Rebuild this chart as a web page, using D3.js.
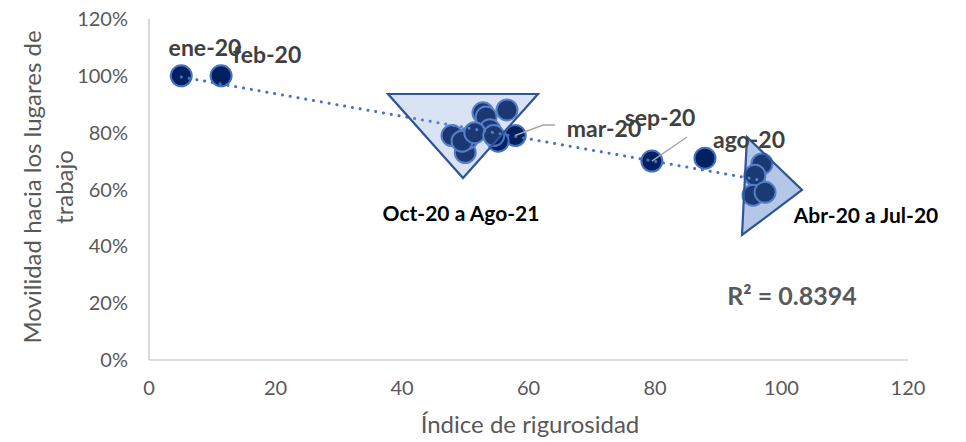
<!DOCTYPE html>
<html><head><meta charset="utf-8">
<script src="https://d3js.org/d3.v7.min.js"></script>
<style>
body{margin:0;background:#fff;}
svg{display:block;font-family:Lato,"Open Sans",sans-serif;}
</style></head><body>
<svg id="c" width="966" height="442"></svg>
<script>
const months = ["ene-20","feb-20","mar-20","abr-20","may-20","jun-20","jul-20","ago-20","sep-20",
  "oct-20","nov-20","dic-20","ene-21","feb-21","mar-21","abr-21","may-21","jun-21","jul-21","ago-21"];
const stringency = [5.1,11.4,57.9,96.9,95.8,95.5,97.4,87.9,79.5,
  47.9,50.0,50.4,49.5,52.8,53.3,53.9,56.6,55.2,51.5,54.5];
const mobility = [1.00,1.00,0.79,0.69,0.65,0.58,0.59,0.71,0.70,
  0.79,0.73,0.78,0.77,0.87,0.855,0.81,0.88,0.77,0.80,0.79];
const xTicks = [0,20,40,60,80,100,120];
const yTicks = [0,0.2,0.4,0.6,0.8,1.0,1.2];
const r2Label = "R² = 0.8394";

const svg = d3.select("#c");
const x = d3.scaleLinear().domain([0,120]).range([149,908]);
const y = d3.scaleLinear().domain([0,1.2]).range([360,19]);
const grey = "#595959";

// axes lines
svg.append("line").attr("x1",149).attr("x2",149).attr("y1",19).attr("y2",360).attr("stroke","#BFBFBF").attr("stroke-width",1.2);
svg.append("line").attr("x1",149).attr("x2",908).attr("y1",360).attr("y2",360).attr("stroke","#BFBFBF").attr("stroke-width",1.2);

// tick labels
svg.selectAll(".yt").data(yTicks).join("text")
  .attr("x",128).attr("y",d=>y(d)).attr("dy","0.35em").attr("text-anchor","end")
  .attr("font-size",20).attr("fill",grey).text(d=>d3.format(".0%")(d));
svg.selectAll(".xt").data(xTicks).join("text")
  .attr("x",d=>x(d)).attr("y",388).attr("dy","0.35em").attr("text-anchor","middle")
  .attr("font-size",20).attr("fill",grey).text(d=>d);

// axis titles
svg.append("text").attr("x",530).attr("y",425).attr("dy","0.35em").attr("text-anchor","middle")
  .attr("font-size",24).attr("fill",grey).text("Índice de rigurosidad");
const yt = svg.append("text").attr("transform","translate(33,187) rotate(-90)").attr("text-anchor","middle")
  .attr("font-size",24).attr("fill",grey);
yt.append("tspan").attr("x",0).attr("dy","0.35em").text("Movilidad hacia los lugares de");
yt.append("tspan").attr("x",0).attr("dy","1.33em").text("trabajo");

// regression
const n = stringency.length;
const mx = d3.mean(stringency), my = d3.mean(mobility);
let sxy=0,sxx=0;
for(let i=0;i<n;i++){sxy+=(stringency[i]-mx)*(mobility[i]-my);sxx+=(stringency[i]-mx)**2;}
const b = sxy/sxx, a = my-b*mx;
const xmin = d3.min(stringency), xmax = d3.max(stringency);

const tri1 = "M388,94 L538,94 L463,178 Z";
const tri2 = "M747,137 L802,190 L742,235 Z";

// triangle fills (under points)
svg.append("path").attr("d",tri1).attr("fill","#DAE3F3");
svg.append("path").attr("d",tri2).attr("fill","#B4C7E7");

// points
const pts = months.map((m,i)=>({m,x:stringency[i],y:mobility[i]}));
svg.selectAll(".pt").data(pts).join("circle")
  .attr("cx",d=>x(d.x)).attr("cy",d=>y(d.y)).attr("r",10.5)
  .attr("fill","#002060").attr("stroke","#4472C4").attr("stroke-width",2);

// trend line
svg.append("line").attr("x1",x(xmin)).attr("y1",y(a+b*xmin)).attr("x2",x(xmax)).attr("y2",y(a+b*xmax))
  .attr("stroke","#4472C4").attr("stroke-width",3).attr("stroke-dasharray","0.1 7.8").attr("stroke-linecap","round");

// triangle overlays + outlines
svg.append("path").attr("d",tri1).attr("fill","#DAE3F3").attr("fill-opacity",0.12)
  .attr("stroke","#2F5597").attr("stroke-width",2.2);
svg.append("path").attr("d",tri2).attr("fill","#B4C7E7").attr("fill-opacity",0.15)
  .attr("stroke","#2F5597").attr("stroke-width",2.2);

// leader lines
svg.append("polyline").attr("points",`${x(57.9)},${y(0.79)} 543,125 555,125`).attr("fill","none").attr("stroke","#A6A6A6").attr("stroke-width",1.5);
svg.append("line").attr("x1",x(79.5)).attr("y1",y(0.70)).attr("x2",687).attr("y2",137).attr("stroke","#A6A6A6").attr("stroke-width",1.5);

// labels
const lab = (t,xx,yy,size,fill,anchor)=>svg.append("text").attr("x",xx).attr("y",yy).attr("dy","0.35em")
  .attr("text-anchor",anchor||"middle").attr("font-size",size).attr("font-weight","bold").attr("fill",fill).text(t);
lab("ene-20",205,48,23,"#404040");
lab("feb-20",267,55,23,"#404040");
lab("mar-20",604,129,23,"#404040");
lab("sep-20",660,118,23,"#404040");
lab("ago-20",749,140,23,"#404040");
lab("Oct-20 a Ago-21",461,214,21,"#000");
lab("Abr-20 a Jul-20",866,216,21,"#000");
lab(r2Label,792,296,25,"#595959");
</script>
</body></html>
